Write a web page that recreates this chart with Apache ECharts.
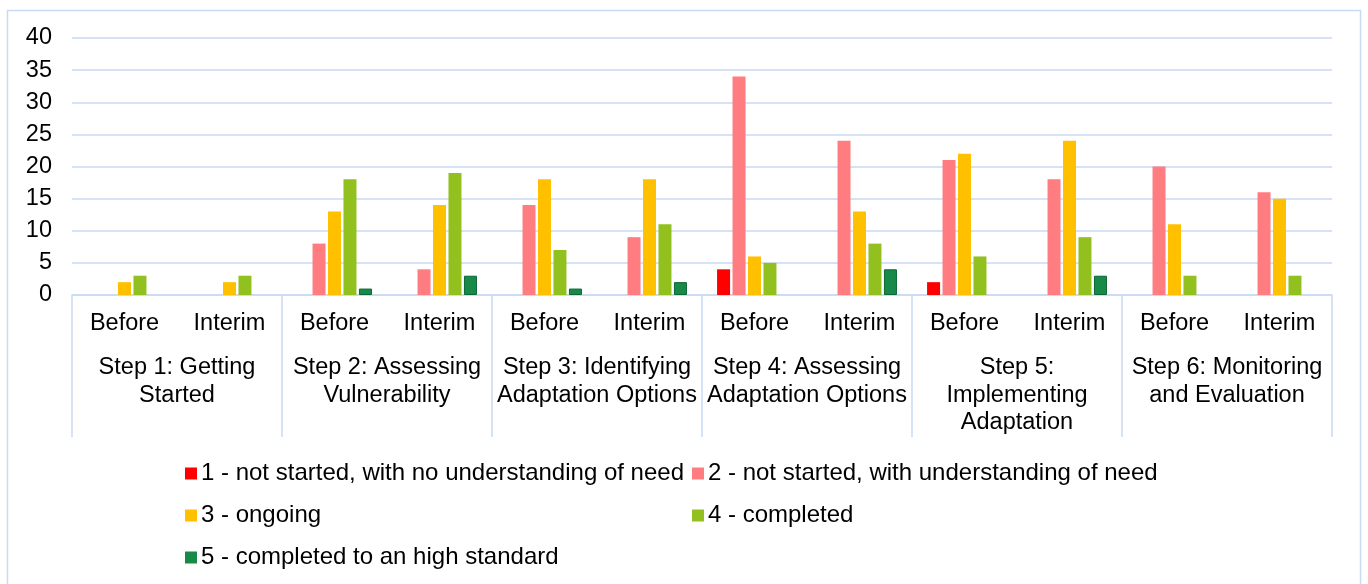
<!DOCTYPE html>
<html>
<head>
<meta charset="utf-8">
<script src="https://cdn.jsdelivr.net/npm/echarts@6/dist/echarts.min.js"></script>
<style>
  html, body { margin: 0; padding: 0; background: #fff; }
  #chart { width: 1368px; height: 584px; }
</style>
</head>
<body>
<div id="chart"></div>
<script>
// Phases within each step
const phases = ['Before', 'Interim', 'Before', 'Interim', 'Before', 'Interim',
                'Before', 'Interim', 'Before', 'Interim', 'Before', 'Interim'];
// Adaptation steps (each spans two phases)
const steps = ['Step 1: Getting\nStarted', 'Step 2: Assessing\nVulnerability',
               'Step 3: Identifying\nAdaptation Options', 'Step 4: Assessing\nAdaptation Options',
               'Step 5:\nImplementing\nAdaptation', 'Step 6: Monitoring\nand Evaluation'];
// Status levels
const levelNames = ['1 - not started, with no understanding of need',
                    '2 - not started, with understanding of need',
                    '3 - ongoing', '4 - completed',
                    '5 - completed to an high standard'];
// Number of responses per status level, for each phase
const level1 = [0, 0, 0, 0, 0, 0, 4, 0, 2, 0, 0, 0];
const level2 = [0, 0, 8, 4, 14, 9, 34, 24, 21, 18, 20, 16];
const level3 = [2, 2, 13, 14, 18, 18, 6, 13, 22, 24, 11, 15];
const level4 = [3, 3, 18, 19, 7, 11, 5, 8, 6, 9, 3, 3];
const level5 = [0, 0, 1, 3, 1, 2, 0, 4, 0, 3, 0, 0];
const yTicks = { min: 0, max: 40, interval: 5 };

const levelData = [level1, level2, level3, level4, level5];
const levelColors = ['#FF0000', '#FF7C80', '#FFC000', '#92C01F', '#178A4A'];
const levelBorders = ['#FF0000', '#FF7C80', '#FFC000', '#92C01F', '#0B6534'];

const FONT = 'Liberation Sans, Arial, sans-serif';
const FS = 23.5;
const FS_LEGEND = 24;
const TXT = '#000';
const LINE = '#C9DAF5';

const chart = echarts.init(document.getElementById('chart'), null, { renderer: 'canvas' });

const series = levelData.map((d, i) => ({
  name: levelNames[i],
  type: 'bar',
  xAxisIndex: 0,
  // outline only on non-empty bars so zero values leave no hairline
  data: d.map(v => ({
    value: v,
    itemStyle: { borderWidth: (i === 4 && v > 0) ? 1 : 0 }
  })),
  barWidth: 13,
  barGap: '19%',
  itemStyle: {
    color: levelColors[i],
    borderColor: levelBorders[i]
  },
  emphasis: { disabled: true }
}));

// One legend block per entry, laid out in two columns
const legendPos = [
  { left: 185, top: 461 },
  { left: 692, top: 461 },
  { left: 185, top: 503 },
  { left: 692, top: 503 },
  { left: 185, top: 545 }
];
const legends = levelNames.map((n, i) => ({
  data: [n],
  left: legendPos[i].left,
  top: legendPos[i].top,
  icon: 'rect',
  itemWidth: 12,
  itemHeight: 12,
  itemGap: 0,
  padding: 0,
  selectedMode: false,
  textStyle: { fontFamily: FONT, fontSize: FS_LEGEND, lineHeight: 25, color: TXT, padding: [0, 0, 0, -1] }
}));

chart.setOption({
  animation: false,
  backgroundColor: '#fff',
  graphic: [{
    type: 'rect',
    shape: { x: 7.5, y: 10.5, width: 1353, height: 620 },
    style: { fill: 'none', stroke: LINE, lineWidth: 1.5 },
    silent: true
  }],
  grid: { left: 72, right: 36, top: 38, bottom: 289, containLabel: false },
  legend: legends,
  xAxis: [
    {
      type: 'category',
      data: phases,
      position: 'bottom',
      axisLine: { show: false },
      axisTick: { show: false },
      axisLabel: {
        interval: 0, margin: 15, fontFamily: FONT, fontSize: FS, color: TXT,
        lineHeight: 27
      }
    },
    {
      type: 'category',
      data: steps,
      position: 'bottom',
      axisLine: { show: true, lineStyle: { color: LINE, width: 1.5 } },
      axisTick: { show: true, length: 142, lineStyle: { color: LINE, width: 1.5 } },
      axisLabel: {
        interval: 0, margin: 59, fontFamily: FONT, fontSize: FS, color: TXT,
        lineHeight: 27.5, align: 'center'
      }
    }
  ],
  yAxis: {
    type: 'value',
    min: yTicks.min, max: yTicks.max, interval: yTicks.interval,
    axisLine: { show: false },
    axisTick: { show: false },
    splitLine: { lineStyle: { color: LINE, width: 1.5 } },
    axisLabel: { margin: 20, fontFamily: FONT, fontSize: FS, color: TXT }
  },
  series: series
});
</script>
</body>
</html>
